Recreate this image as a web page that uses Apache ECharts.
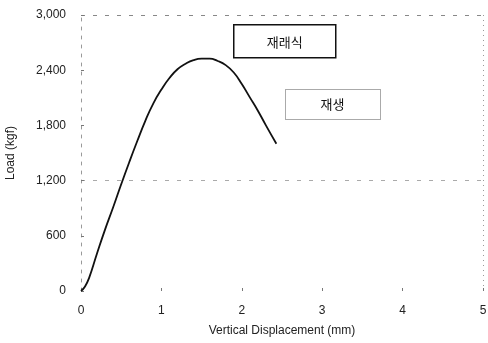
<!DOCTYPE html>
<html>
<head>
<meta charset="utf-8">
<script src="https://cdn.jsdelivr.net/npm/echarts@6/dist/echarts.min.js"></script>
<style>
  html, body { margin: 0; padding: 0; background: #fff; }
  #chart { width: 488px; height: 343px; }
</style>
</head>
<body>
<div id="chart"></div>
<script>
// Load–displacement curve (mm, kgf)
const displacement = [0, 0.05, 0.1, 0.2, 0.3, 0.4, 0.5, 0.6, 0.7, 0.8, 0.9, 1.0, 1.1, 1.2, 1.3, 1.4, 1.5, 1.6, 1.7, 1.8, 1.9, 2.0, 2.1, 2.2, 2.3, 2.43];
const load = [0, 50, 140, 410, 670, 910, 1160, 1400, 1630, 1850, 2040, 2190, 2315, 2410, 2470, 2510, 2525, 2525, 2500, 2455, 2375, 2250, 2105, 1960, 1800, 1600];
const legendLabels = ['재래식', '재생'];

const chart = echarts.init(document.getElementById('chart'));
const textColor = '#222';

chart.setOption({
  animation: false,
  backgroundColor: '#fff',
  grid: { left: 81, right: 5, top: 15, bottom: 52, outerBoundsMode: 'none' },
  xAxis: {
    type: 'value', min: 0, max: 5, interval: 1,
    name: 'Vertical Displacement (mm)', nameLocation: 'middle', nameGap: 34,
    nameTextStyle: { fontFamily: 'Liberation Sans', fontSize: 12, color: textColor, letterSpacing: 1 },
    axisLine: { show: false },
    axisTick: { show: true, inside: true, length: 3, lineStyle: { color: '#777' } },
    axisLabel: { fontFamily: 'Liberation Sans', fontSize: 12, color: textColor, margin: 14 },
    splitLine: { show: true, lineStyle: { color: ['transparent', 'transparent', 'transparent', 'transparent', 'transparent', '#999'], type: [1, 4] } }
  },
  yAxis: {
    type: 'value', min: 0, max: 3000, interval: 600,
    name: 'Load (kgf)', nameLocation: 'middle', nameGap: 64, nameRotate: 90,
    nameTextStyle: { fontFamily: 'Liberation Sans', fontSize: 12, color: textColor },
    axisLine: { show: true, lineStyle: { color: '#999', type: [3, 6] } },
    axisTick: { show: true, inside: true, length: 3, lineStyle: { color: '#777' } },
    axisLabel: {
      fontFamily: 'Liberation Sans', fontSize: 12, color: textColor, margin: 15,
      formatter: v => v.toLocaleString('en-US')
    },
    splitLine: { show: true, lineStyle: { color: ['transparent', 'transparent', '#aaa', 'transparent', 'transparent', '#888'], type: [4, 8] } }
  },
  series: [{
    type: 'line',
    data: displacement.map((x, i) => [x, load[i]]),
    smooth: 0.5,
    symbol: 'none',
    lineStyle: { color: '#111', width: 1.8 }
  }],
  graphic: [
    {
      type: 'group', left: 233, top: 24,
      children: [
        { type: 'rect', shape: { x: 0, y: 0, width: 102, height: 33 }, style: { fill: '#fff', stroke: '#111', lineWidth: 1.5 } },
        { type: 'text', x: 51, y: 17, style: { text: legendLabels[0], fontFamily: 'Noto Sans CJK KR', fontSize: 13, fill: '#111', align: 'center', verticalAlign: 'middle' } }
      ]
    },
    {
      type: 'group', left: 285, top: 89,
      children: [
        { type: 'rect', shape: { x: 0, y: 0, width: 95, height: 30 }, style: { fill: '#fff', stroke: '#555', lineWidth: 1, lineDash: [1, 1] } },
        { type: 'text', x: 47, y: 15, style: { text: legendLabels[1], fontFamily: 'Noto Sans CJK KR', fontSize: 13, fill: '#111', align: 'center', verticalAlign: 'middle' } }
      ]
    }
  ]
});
</script>
</body>
</html>
